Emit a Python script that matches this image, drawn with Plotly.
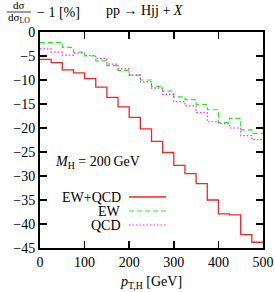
import plotly.graph_objects as go

# ---- data ----
bin_edges = [0, 25, 50, 75, 100, 125, 150, 175, 200, 225, 250, 275, 300, 325, 350, 375, 400, 425, 450, 475, 500]
ew_qcd = [-5.7, -6.4, -7.9, -8.5, -9.7, -11.5, -13.6, -15.6, -17.8, -20.2, -22.8, -25.1, -27.8, -29.5, -31.6, -35.0, -37.9, -38.1, -42.2, -43.8]
ew = [-2.2, -2.2, -3.2, -4.2, -5.0, -6.0, -7.0, -8.0, -9.0, -10.0, -11.4, -12.3, -13.5, -14.1, -15.1, -16.2, -18.9, -18.0, -20.4, -21.1]
qcd = [-3.5, -4.2, -4.8, -4.4, -4.9, -5.5, -6.7, -7.7, -9.0, -10.4, -11.7, -13.0, -14.5, -15.4, -16.8, -18.7, -19.1, -20.0, -21.6, -22.4]
x_ticks = [0, 100, 200, 300, 400, 500]
y_ticks = [0, -5, -10, -15, -20, -25, -30, -35, -40, -45]
series_names = ["EW+QCD", "EW", "QCD"]

FONT = "Liberation Serif"
L, R, T, B = 40, 263, 32, 248  # plot area in pixels
W, H = 275, 292

def px(x):
    return (x - L) / (R - L)

def py(y):
    return (B - y) / (B - T)

def steps(vals):
    return bin_edges, list(vals) + [vals[-1]]

styles = [
    dict(color="#ff2020", width=1.3, dash="solid"),
    dict(color="#22ee22", width=1.2, dash="5px,3px"),
    dict(color="#ff22ff", width=1.2, dash="1.5px,2px"),
]

fig = go.Figure()
for name, vals, st in zip(series_names, [ew_qcd, ew, qcd], styles):
    xs, ys = steps(vals)
    fig.add_trace(go.Scatter(x=xs, y=ys, mode="lines", line_shape="hv",
                             line=st, name=name, showlegend=False, hoverinfo="skip"))

axis_common = dict(showgrid=False, zeroline=False, showline=True, linecolor="black",
                   linewidth=2, mirror="allticks", ticks="inside", ticklen=7,
                   tickwidth=1.5, tickcolor="black", automargin=False,
                   tickfont=dict(family=FONT, size=14, color="black"))

fig.update_layout(
    width=W, height=H,
    margin=dict(l=L, r=W - R, t=T, b=H - B),
    paper_bgcolor="white", plot_bgcolor="white",
    xaxis=dict(range=[0, 500], tickvals=x_ticks, ticktext=[str(v) for v in x_ticks], **axis_common),
    yaxis=dict(range=[-45, 0], tickvals=y_ticks,
               ticktext=[("\u2212" + str(-v)) if v < 0 else str(v) for v in y_ticks], **axis_common),
    font=dict(family=FONT, color="black"),
)

ann = []
def add_text(text, x, y, size, xanchor="center"):
    ann.append(dict(text=text, x=px(x), y=py(y), xref="paper", yref="paper",
                    xanchor=xanchor, yanchor="middle", showarrow=False,
                    font=dict(family=FONT, size=size, color="black")))

# y title as fraction
add_text("d\u03c3", 19, 5, 11)
add_text("d\u03c3<sub>LO</sub>", 19, 18, 11)
add_text("\u2212 1 [%]", 35, 12, 14, xanchor="left")
add_text("pp \u2192 Hjj + <i>X</i>", 104, 11, 14, xanchor="left")
# x title
add_text("<i>p</i><sub>T,H</sub> [GeV]", 151, 282, 14)
# in-plot label
add_text("<i>M</i><sub>H</sub> = 200\u2009GeV", 53, 163, 14, xanchor="left")
# legend labels
leg_y = [197, 211, 225]
for name, yy in zip(series_names, leg_y):
    add_text(name, 123, yy, 14, xanchor="right")

shapes = [dict(type="line", xref="paper", yref="paper", x0=px(7), x1=px(31),
               y0=py(12), y1=py(12), line=dict(color="black", width=0.8))]
for st, yy in zip(styles, leg_y):
    shapes.append(dict(type="line", xref="paper", yref="paper", x0=px(129), x1=px(166),
                       y0=py(yy), y1=py(yy), line=st))

fig.update_layout(annotations=ann, shapes=shapes)
fig.write_html("out.html", config={"displayModeBar": False, "staticPlot": True},
               post_script="document.body.style.margin='0';document.body.style.overflow='hidden';")
